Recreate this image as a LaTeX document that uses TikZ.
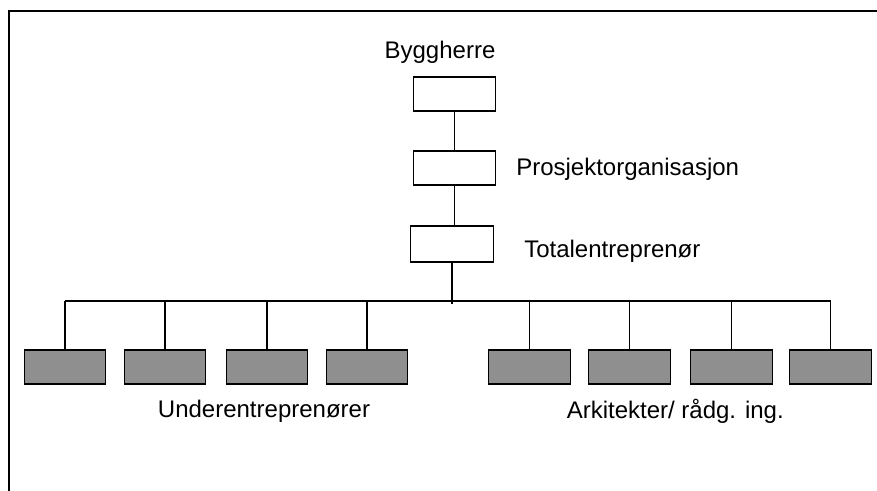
\documentclass[tikz,border=0pt]{standalone}
\usepackage{fontspec}
\setmainfont{Liberation Sans}
\usetikzlibrary{positioning}
\tikzset{
	x=0.75pt,
	y=-0.75pt,
	every node/.style={font=\fontsize{18}{21}\selectfont},
	frame/.style={line width=1.6pt},
	link/.style={line width=0.8pt},
	headbox/.style={draw, line width=0.8pt, fill=white, minimum width=62pt, minimum height=25.5pt, inner sep=0pt},
	subbox/.style={draw, line width=0.8pt, fill=boxgray, minimum width=61pt, minimum height=25.5pt, inner sep=0pt},
	label/.style={inner sep=0pt},
}
\definecolor{boxgray}{rgb}{0.56,0.56,0.56}

\begin{document}
\begin{tikzpicture}
		\useasboundingbox (0,0) rectangle (877,491);
		\draw[frame] (877,11) -- (9,11) -- (9,491);

		\node[headbox] (bygg) at (454.5,94) {};
		\node[headbox] (pro) at (454.5,168) {};
		\node[headbox, minimum height=27pt] (tot) at (452,244) {};

		\node[label] (tbygg) at (440,52) {Byggherre};
		\node[label, anchor=west] (tpro) at (516,169) {Prosjektorganisasjon};
		\node[label, anchor=west] (ttot) at (524,251) {Totalentreprenør};

		\node[subbox] (u1) at (65,367) {};
		\node[subbox] (u2) at (165,367) {};
		\node[subbox] (u3) at (267,367) {};
		\node[subbox] (u4) at (367,367) {};
		\node[subbox] (a1) at (529.5,367) {};
		\node[subbox] (a2) at (629.5,367) {};
		\node[subbox] (a3) at (731.5,367) {};
		\node[subbox] (a4) at (830.5,367) {};

		\node[label] (tunder) at (264,411) {Underentreprenører};
		\node[label, anchor=east] (tark) at (784,411) {Arkitekter/ rådg. ing.};

		\coordinate (busL) at (65,301);
		\coordinate (busR) at (831,301);
		\coordinate (busM) at (452,304);

		\draw[link] (bygg) -- (pro)
		(pro) -- (pro |- tot.north)
		(tot.south) -- (busM)
		(busL) -- (busR);
		\draw[link] (u1.north) -- (u1.north |- busL)
		(u2.north) -- (u2.north |- busL)
		(u3.north) -- (u3.north |- busL)
		(u4.north) -- (u4.north |- busL)
		(a1.north) -- (a1.north |- busL)
		(a2.north) -- (a2.north |- busL)
		(a3.north) -- (a3.north |- busL)
		(a4.north) -- (a4.north |- busL);
	\end{tikzpicture}
\end{document}
